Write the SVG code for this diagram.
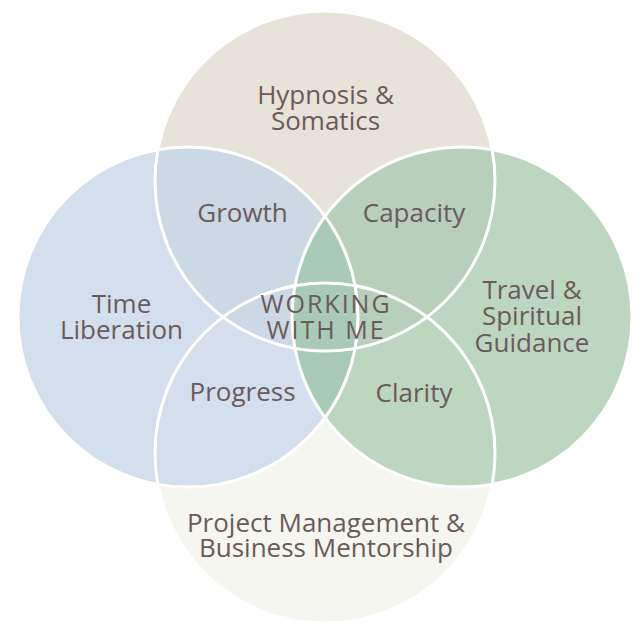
<svg xmlns="http://www.w3.org/2000/svg" width="644" height="644" viewBox="0 0 644 644">
  <style>
    .lbl { font-family: "Open Sans", "Liberation Sans", sans-serif; font-size: 26px; fill: #6B5A5A; text-anchor: middle; }
    .ctr { font-size: 25px; letter-spacing: 2px; }
    .ring { fill: none; stroke: #FFFFFF; stroke-width: 3; }
  </style>
  <defs>
    <circle id="cTop" cx="325" cy="181" r="170"/>
    <circle id="cBottom" cx="325" cy="453" r="170"/>
    <circle id="cLeft" cx="188" cy="317" r="170"/>
    <circle id="cRight" cx="462" cy="317" r="170"/>
    <clipPath id="clipTop"><use href="#cTop"/></clipPath>
    <clipPath id="clipLeft"><use href="#cLeft"/></clipPath>
  </defs>
  <rect width="644" height="644" fill="#FFFFFF"/>

  <g id="fills">
    <use href="#cBottom" fill="#F5F6F0"/>
    <use href="#cTop" fill="#E8E3D8"/>
    <use href="#cLeft" fill="#D3DFEC"/>
    <use href="#cRight" fill="#BDD6BF"/>
    <g clip-path="url(#clipTop)">
      <use href="#cLeft" fill="#CCD8E4"/>
      <use href="#cRight" fill="#B8D0B9"/>
    </g>
    <use href="#cRight" fill="#A9CAB7" clip-path="url(#clipLeft)"/>
  </g>

  <g id="outlines">
    <use href="#cTop" class="ring"/>
    <use href="#cBottom" class="ring"/>
    <use href="#cLeft" class="ring"/>
    <use href="#cRight" class="ring"/>
  </g>

  <g id="connectors"></g>

  <g id="node-hypnosis">
    <text class="lbl" x="325.5" y="104">Hypnosis &amp;</text>
    <text class="lbl" x="325.5" y="129.5">Somatics</text>
  </g>
  <g id="node-time">
    <text class="lbl" x="121.5" y="313">Time</text>
    <text class="lbl" x="121.5" y="339">Liberation</text>
  </g>
  <g id="node-travel">
    <text class="lbl" x="532" y="299">Travel &amp;</text>
    <text class="lbl" x="532" y="325">Spiritual</text>
    <text class="lbl" x="532" y="351.5">Guidance</text>
  </g>
  <g id="node-project">
    <text class="lbl" x="326" y="531.5">Project Management &amp;</text>
    <text class="lbl" x="326" y="556.5">Business Mentorship</text>
  </g>
  <g id="node-growth">
    <text class="lbl" x="242.5" y="221.5">Growth</text>
  </g>
  <g id="node-capacity">
    <text class="lbl" x="414" y="221.5">Capacity</text>
  </g>
  <g id="node-progress">
    <text class="lbl" x="242.5" y="401">Progress</text>
  </g>
  <g id="node-clarity">
    <text class="lbl" x="414" y="401.5">Clarity</text>
  </g>
  <g id="node-center">
    <text class="lbl ctr" x="326" y="313">WORKING</text>
    <text class="lbl ctr" x="326" y="339">WITH ME</text>
  </g>
</svg>
